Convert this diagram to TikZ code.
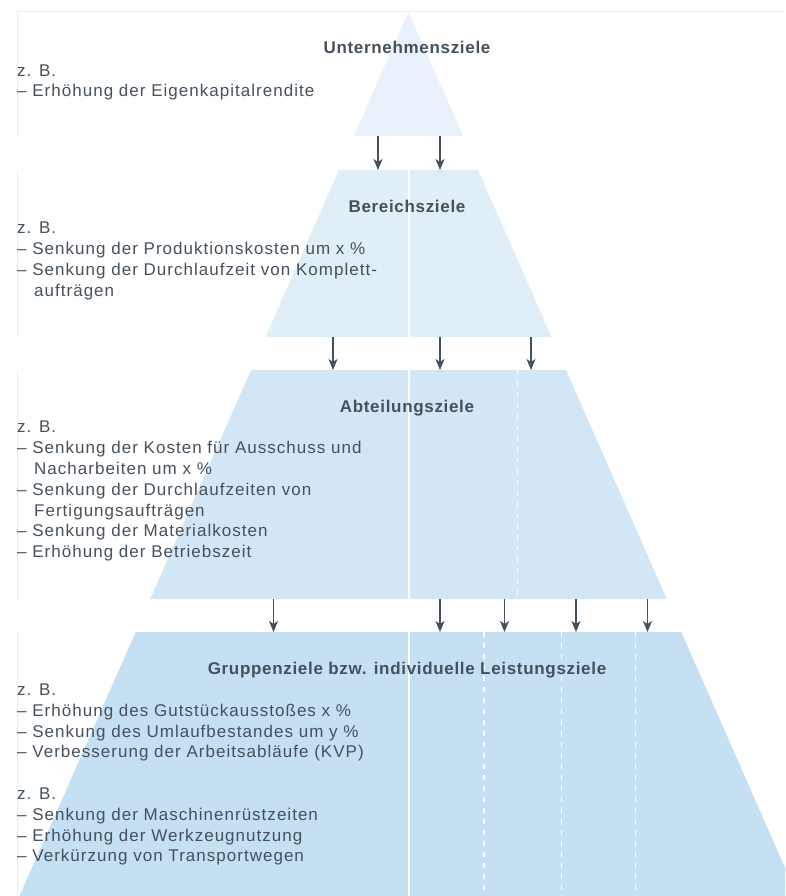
\documentclass[tikz,border=0pt]{standalone}
\usepackage{fontspec}
\setmainfont{Liberation Sans}[LetterSpace=6, BoldFeatures={LetterSpace=4}]
\usepackage{xcolor}
\usetikzlibrary{arrows.meta}

\definecolor{textgray}{HTML}{45515C}
\definecolor{band1}{HTML}{E9F2FA}
\definecolor{band2}{HTML}{E0EEF8}
\definecolor{band3}{HTML}{D2E6F5}
\definecolor{band4}{HTML}{C4E0F2}
\definecolor{frame}{HTML}{E6EEF5}

\begin{document}
\begin{tikzpicture}[x=1pt, y=-1pt,
% common options for the list lines:
item/.style = {anchor=base west, inner sep=0, text=textgray,
            font=\fontsize{17}{20.8}\selectfont},
% common options for the level titles:
head/.style = {anchor=base, inner sep=0, text=textgray,
            font=\fontsize{17}{20.8}\selectfont\bfseries},
% arrows from one level to the next:
pfeil/.style = {draw=textgray, line width=1.1pt,
            -{Stealth[length=11pt, width=9pt, inset=3pt]}},
% white split lines inside the levels:
split/.style = {draw=white, line width=1.5pt},
splitdash/.style = {split, dash pattern=on 5pt off 6pt}]
\useasboundingbox (0,0) rectangle (785,896);

% level edges
\coordinate (U-s) at (0,136);
\coordinate (B-n) at (0,170);
\coordinate (B-s) at (0,337);
\coordinate (A-n) at (0,370);
\coordinate (A-s) at (0,599);
\coordinate (G-n) at (0,632);
\coordinate (G-s) at (0,896);

% frame lines
\draw[frame, line width=0.8pt] (17,11) -- (785,11);
\draw[frame, line width=0.8pt] (17,11) -- (17,136);
\draw[frame, line width=0.8pt] (17,170) -- (17,337);
\draw[frame, line width=0.8pt] (17,370) -- (17,599);
\draw[frame, line width=0.8pt] (17,632) -- (17,896);

% pyramid
\fill[band1] (408.5,12) -- (463.1,136) -- (353.9,136) -- cycle;
\fill[band2] (339.0,170) -- (478.0,170) -- (551.5,337) -- (265.5,337) -- cycle;
\fill[band3] (251.0,370) -- (566.0,370) -- (666.8,599) -- (150.2,599) -- cycle;
\fill[band4] (135.7,632) -- (681.3,632) -- (785,867.7) -- (785,896) -- (19.5,896) -- cycle;

\draw[split] ([xshift=409]B-n) -- ([xshift=409]B-s);
\draw[split] ([xshift=409]A-n) -- ([xshift=409]A-s);
\draw[splitdash] ([xshift=517.5]A-n) -- ([xshift=517.5]A-s);
\draw[split] ([xshift=409]G-n) -- ([xshift=409]G-s);
\foreach \x in {484,561.5,635.5}
  \draw[splitdash] ([xshift=\x]G-n) -- ([xshift=\x]G-s);

% arrows
\foreach \x in {378,440}
  \draw[pfeil] ([xshift=\x]U-s) -- ([xshift=\x]B-n);
\foreach \x in {333,440,531}
  \draw[pfeil] ([xshift=\x]B-s) -- ([xshift=\x]A-n);
\foreach \x in {273.5,440,504.5,576,647.5}
  \draw[pfeil] ([xshift=\x]A-s) -- ([xshift=\x]G-n);

% Unternehmen
\node[head] (U0) at (407,53.8) {Unternehmensziele};
\node[item] (U1) at (17,76.1) {z. B.};
\node[item] (U2) at (17,96.1) {– Erhöhung der Eigenkapitalrendite};

% Bereich
\node[head] (B0) at (407,212.8) {Bereichsziele};
\node[item] (B1) at (17,233.6) {z. B.};
\node[item] (B2) at (17,254.4) {– Senkung der Produktionskosten um x \%};
\node[item] (B3) at (17,275.2) {– Senkung der Durchlaufzeit von Komplett-};
\node[item] (B4) at (34,296) {aufträgen};

% Abteilung
\node[head] (A0) at (407,412.1) {Abteilungsziele};
\node[item] (A1) at (17,432.8) {z. B.};
\node[item] (A2) at (17,453.6) {– Senkung der Kosten für Ausschuss und};
\node[item] (A3) at (34,474.4) {Nacharbeiten um x \%};
\node[item] (A4) at (17,495.2) {– Senkung der Durchlaufzeiten von};
\node[item] (A5) at (34,516) {Fertigungsaufträgen};
\node[item] (A6) at (17,536.8) {– Senkung der Materialkosten};
\node[item] (A7) at (17,557.6) {– Erhöhung der Betriebszeit};

% Gruppe
\node[head] (G0) at (407,674.4) {Gruppenziele bzw. individuelle Leistungsziele};
\node[item] (G1) at (17,695.4) {z. B.};
\node[item] (G2) at (17,716.2) {– Erhöhung des Gutstückausstoßes x \%};
\node[item] (G3) at (17,737) {– Senkung des Umlaufbestandes um y \%};
\node[item] (G4) at (17,757.8) {– Verbesserung der Arbeitsabläufe (KVP)};
\node[item] (G5) at (17,799.4) {z. B.};
\node[item] (G6) at (17,820.2) {– Senkung der Maschinenrüstzeiten};
\node[item] (G7) at (17,841) {– Erhöhung der Werkzeugnutzung};
\node[item] (G8) at (17,861.8) {– Verkürzung von Transportwegen};
\end{tikzpicture}
\end{document}
